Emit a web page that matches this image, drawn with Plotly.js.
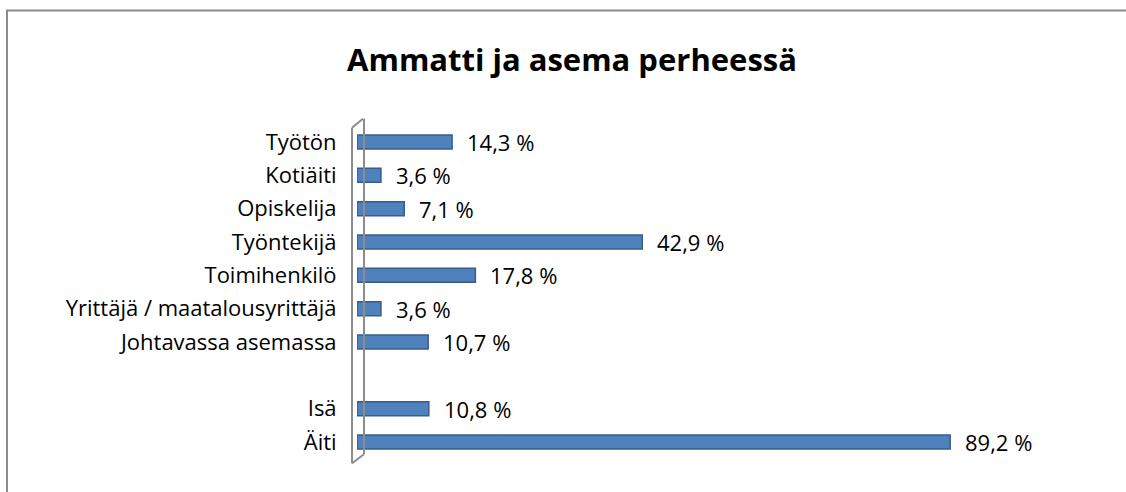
<!DOCTYPE html>
<html>
<head>
<meta charset="utf-8">
<script src="https://cdn.plot.ly/plotly-3.0.1.min.js"></script>
<style>html,body{margin:0;padding:0;background:#fff;overflow:hidden;}#chart{width:1126px;height:492px;}</style>
</head>
<body>
<div id="chart"></div>
<script>
const categories = ["Työtön", "Kotiäiti", "Opiskelija", "Työntekijä", "Toimihenkilö", "Yrittäjä / maatalousyrittäjä", "Johtavassa asemassa", " ", "Isä", "Äiti"];
const values = [14.3, 3.6, 7.1, 42.9, 17.8, 3.6, 10.7, null, 10.8, 89.2];
const valueLabels = ["14,3 %", "3,6 %", "7,1 %", "42,9 %", "17,8 %", "3,6 %", "10,7 %", "", "10,8 %", "89,2 %"];

const L = 357, R = 1022, T = 125.3, B = 458.7, W = 1126, H = 492;
const px = x => (x - L) / (R - L);
const py = y => (B - y) / (B - T);
const FONT = '"Open Sans", Lato, sans-serif';

const trace = {
  type: 'bar', orientation: 'h',
  y: categories, x: values,
  width: 0.42,
  marker: {color: '#4F81BD', line: {color: '#385D8A', width: 1.5}},
  hoverinfo: 'skip'
};

const annotations = categories.map((c, i) => values[i] == null ? null : ({
  x: values[i], y: c, xref: 'x', yref: 'y', text: valueLabels[i],
  showarrow: false, xanchor: 'left', xshift: 13,
  font: {family: FONT, size: 22, color: '#000'}
})).filter(a => a);

const ln = (x0, y0, x1, y1, w, c) => ({type: 'line', xref: 'paper', yref: 'paper',
  x0: px(x0), y0: py(y0), x1: px(x1), y1: py(y1), line: {color: c, width: w}});

const frame = '#8C8C8C', wall = '#8C8C8C';
const shapes = [
  {type: 'rect', xref: 'paper', yref: 'paper', x0: px(7), y0: py(H + 40), x1: px(W + 40), y1: py(11),
    line: {color: frame, width: 2}, fillcolor: 'rgba(0,0,0,0)'},
  ln(352, 128, 352, 463, 2, wall), ln(352, 128, 363, 119, 2, wall),
  ln(364, 119, 364, 454, 2, wall), ln(352, 463, 364, 454, 2, wall)
];

const layout = {
  width: W, height: H,
  margin: {l: L, r: W - R, t: T, b: H - B},
  paper_bgcolor: '#fff', plot_bgcolor: 'rgba(0,0,0,0)',
  title: {text: '<b>Ammatti ja asema perheessä</b>', x: 572 / W, xref: 'container', xanchor: 'center',
    y: 1 - 60 / H, yref: 'container', yanchor: 'middle',
    font: {family: FONT, size: 31, color: '#000'}},
  xaxis: {range: [0, 100], visible: false, fixedrange: true},
  yaxis: {type: 'category', categoryorder: 'array', categoryarray: categories,
    autorange: 'reversed', showgrid: false, zeroline: false, showline: false,
    ticks: 'outside', ticklen: 15, tickcolor: 'rgba(0,0,0,0)',
    tickfont: {family: FONT, size: 22, color: '#000'}},
  showlegend: false,
  shapes: shapes,
  annotations: annotations
};

Plotly.newPlot('chart', [trace], layout, {displayModeBar: false, staticPlot: true});
</script>
</body>
</html>
